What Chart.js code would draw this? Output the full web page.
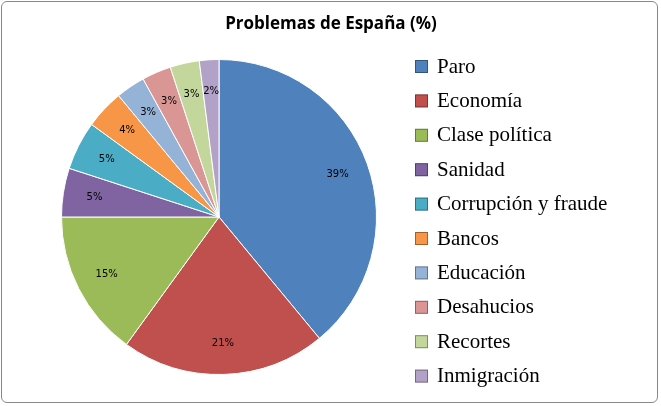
<!DOCTYPE html>
<html><head><meta charset="utf-8">
<script src="https://cdn.jsdelivr.net/npm/chart.js@4"></script>
<style>html,body{margin:0;padding:0;background:#fff}#w{width:661px;height:406px;position:relative}
#b{position:absolute;left:1px;top:1px;width:657px;height:402px;border:1px solid #888;border-radius:6px;box-sizing:border-box}</style>
</head><body><div id="w"><div id="b"></div><canvas id="c" width="661" height="406"></canvas></div>
<script>
const categories=["Paro","Economía","Clase política","Sanidad","Corrupción y fraude","Bancos","Educación","Desahucios","Recortes","Inmigración"];
const values=[39,21,15,5,5,4,3,3,3,2];
const colors=["#4F81BD","#C0504D","#9BBB59","#8064A2","#4BACC6","#F79646","#95B3D7","#D99694","#C3D69B","#B3A2C7"];
const title="Problemas de España (%)";
const deco={id:'deco',afterDraw(ch){
 const c=ch.ctx;c.save();
 c.fillStyle='#000';c.font='bold 17px "Open Sans", sans-serif';c.textAlign='center';c.textBaseline='middle';
 c.fillText(title,331,24);
 const arcs=ch.getDatasetMeta(0).data;
 c.font='10px "DejaVu Sans", sans-serif';
 arcs.forEach((a,i)=>{const ang=(a.startAngle+a.endAngle)/2;const r=a.outerRadius*0.8;
  c.fillText(values[i]+'%',a.x+Math.cos(ang)*r,a.y+Math.sin(ang)*r);});
 c.textAlign='left';c.font='21px "Liberation Serif", serif';
 categories.forEach((l,i)=>{const y=66+i*34.4;
  c.fillStyle=colors[i];c.fillRect(415,y-6,13,13);c.strokeStyle='rgba(0,0,0,0.35)';c.strokeRect(415.5,y-5.5,12,12);
  c.fillStyle='#000';c.fillText(l,437,y+1);});
 c.restore();}};
new Chart(document.getElementById('c'),{type:'pie',
 data:{labels:categories,datasets:[{data:values,backgroundColor:colors,borderColor:'#fff',borderWidth:1}]},
 options:{responsive:false,animation:false,layout:{padding:{top:59,bottom:31,left:61,right:284}},
  plugins:{legend:{display:false},tooltip:{enabled:false}}},
 plugins:[deco]});
</script></body></html>
